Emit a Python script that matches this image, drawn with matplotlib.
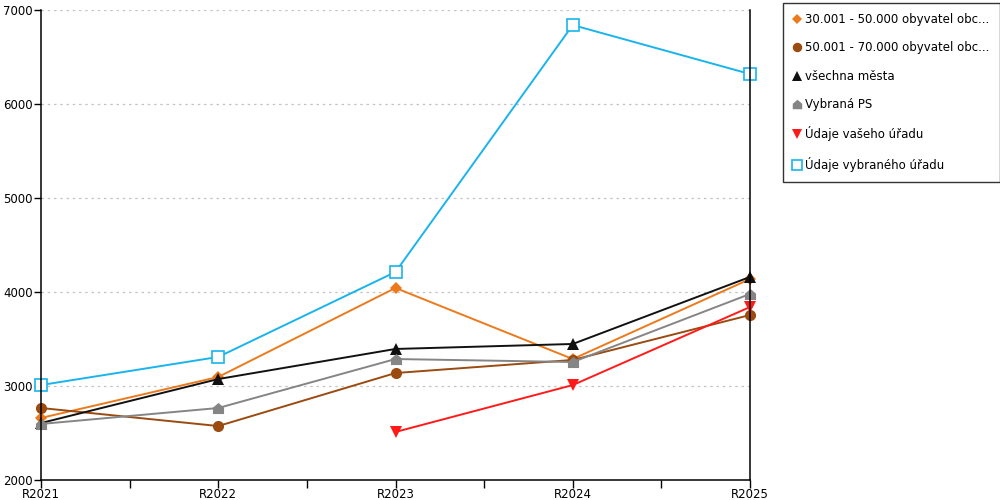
import matplotlib
matplotlib.use("Agg")
import numpy as np
from matplotlib import pyplot as plt
from matplotlib.path import Path

years = ["R2021", "R2022", "R2023", "R2024", "R2025"]

pop_30_50 = [2660, 3096, 4043, 3287, 4138]
pop_50_70 = [2766, 2574, 3138, 3277, 3755]
all_cities = [2606, 3074, 3394, 3447, 4160]
selected_ps = [2596, 2766, 3287, 3255, 3979]
your_office = [np.nan, np.nan, 2511, 3010, 3840]
selected_office = [3010, 3309, 4213, 6840, 6319]

labels = [
    "30.001 - 50.000 obyvatel obc...",
    "50.001 - 70.000 obyvatel obc...",
    "všechna města",
    "Vybraná PS",
    "Údaje vašeho úřadu",
    "Údaje vybraného úřadu",
]

# house-shaped marker for "Vybraná PS"
HOUSE = Path([(-1, -1), (1, -1), (1, 0.15), (0, 1), (-1, 0.15), (-1, -1)],
             [Path.MOVETO] + [Path.LINETO] * 4 + [Path.CLOSEPOLY])

styles = [
    dict(color="#ec7a1c", marker="D", ms=6.5),
    dict(color="#9b4a10", marker="o", ms=8),
    dict(color="#111111", marker="^", ms=8.5),
    dict(color="#858585", marker=HOUSE, ms=8),
    dict(color="#ff1a1a", marker="v", ms=8.5),
    dict(color="#1ab4ec", marker="s", ms=9, mfc="white"),
]

series = [pop_30_50, pop_50_70, all_cities, selected_ps, your_office, selected_office]

fig = plt.figure(figsize=(10, 5), dpi=100)
ax = fig.add_axes([0.041, 0.04, 0.709, 0.94])

x = np.arange(len(years))
for vals, lab, st in zip(series, labels, styles):
    ax.plot(x, vals, label=lab, lw=1.4, clip_on=False,
            mew=1.2 if st["marker"] == "s" else 0, **st)

ax.set_xlim(0, len(years) - 1)
ax.set_ylim(2000, 7000)
ax.set_yticks(np.arange(2000, 7001, 1000))
ax.set_xticks(x)
ax.set_xticklabels(years)
ax.set_xticks(np.arange(0.5, len(years) - 1, 1), minor=True)
ax.tick_params(axis="x", which="both", length=6, width=1, pad=-0.5, labelsize=8.5)
ax.tick_params(axis="y", length=5, width=1, pad=1, labelsize=8.5)

ax.grid(axis="y", color="#c4c4c4", linestyle=(0, (2, 3)), lw=0.9)
ax.spines["top"].set_visible(False)
for s in ("left", "bottom", "right"):
    ax.spines[s].set_linewidth(1.1)

# legend shows markers only
leg_handles = []
for st in styles:
    lh = plt.Line2D([], [], ls="none", marker=st["marker"], color=st["color"],
                    ms=st["ms"] * 0.85, mfc=st.get("mfc", st["color"]),
                    mew=1.2 if st["marker"] == "s" else 0)
    leg_handles.append(lh)
leg = fig.legend(leg_handles, labels, loc="upper left", bbox_to_anchor=(0.783, 0.994),
                 frameon=True, fancybox=False, edgecolor="black", fontsize=8.5,
                 handlelength=0.7, handletextpad=0.35, labelspacing=1.3,
                 borderpad=0.85, borderaxespad=0)
leg.get_frame().set_linewidth(1)

fig.savefig("out.png", dpi=100)
